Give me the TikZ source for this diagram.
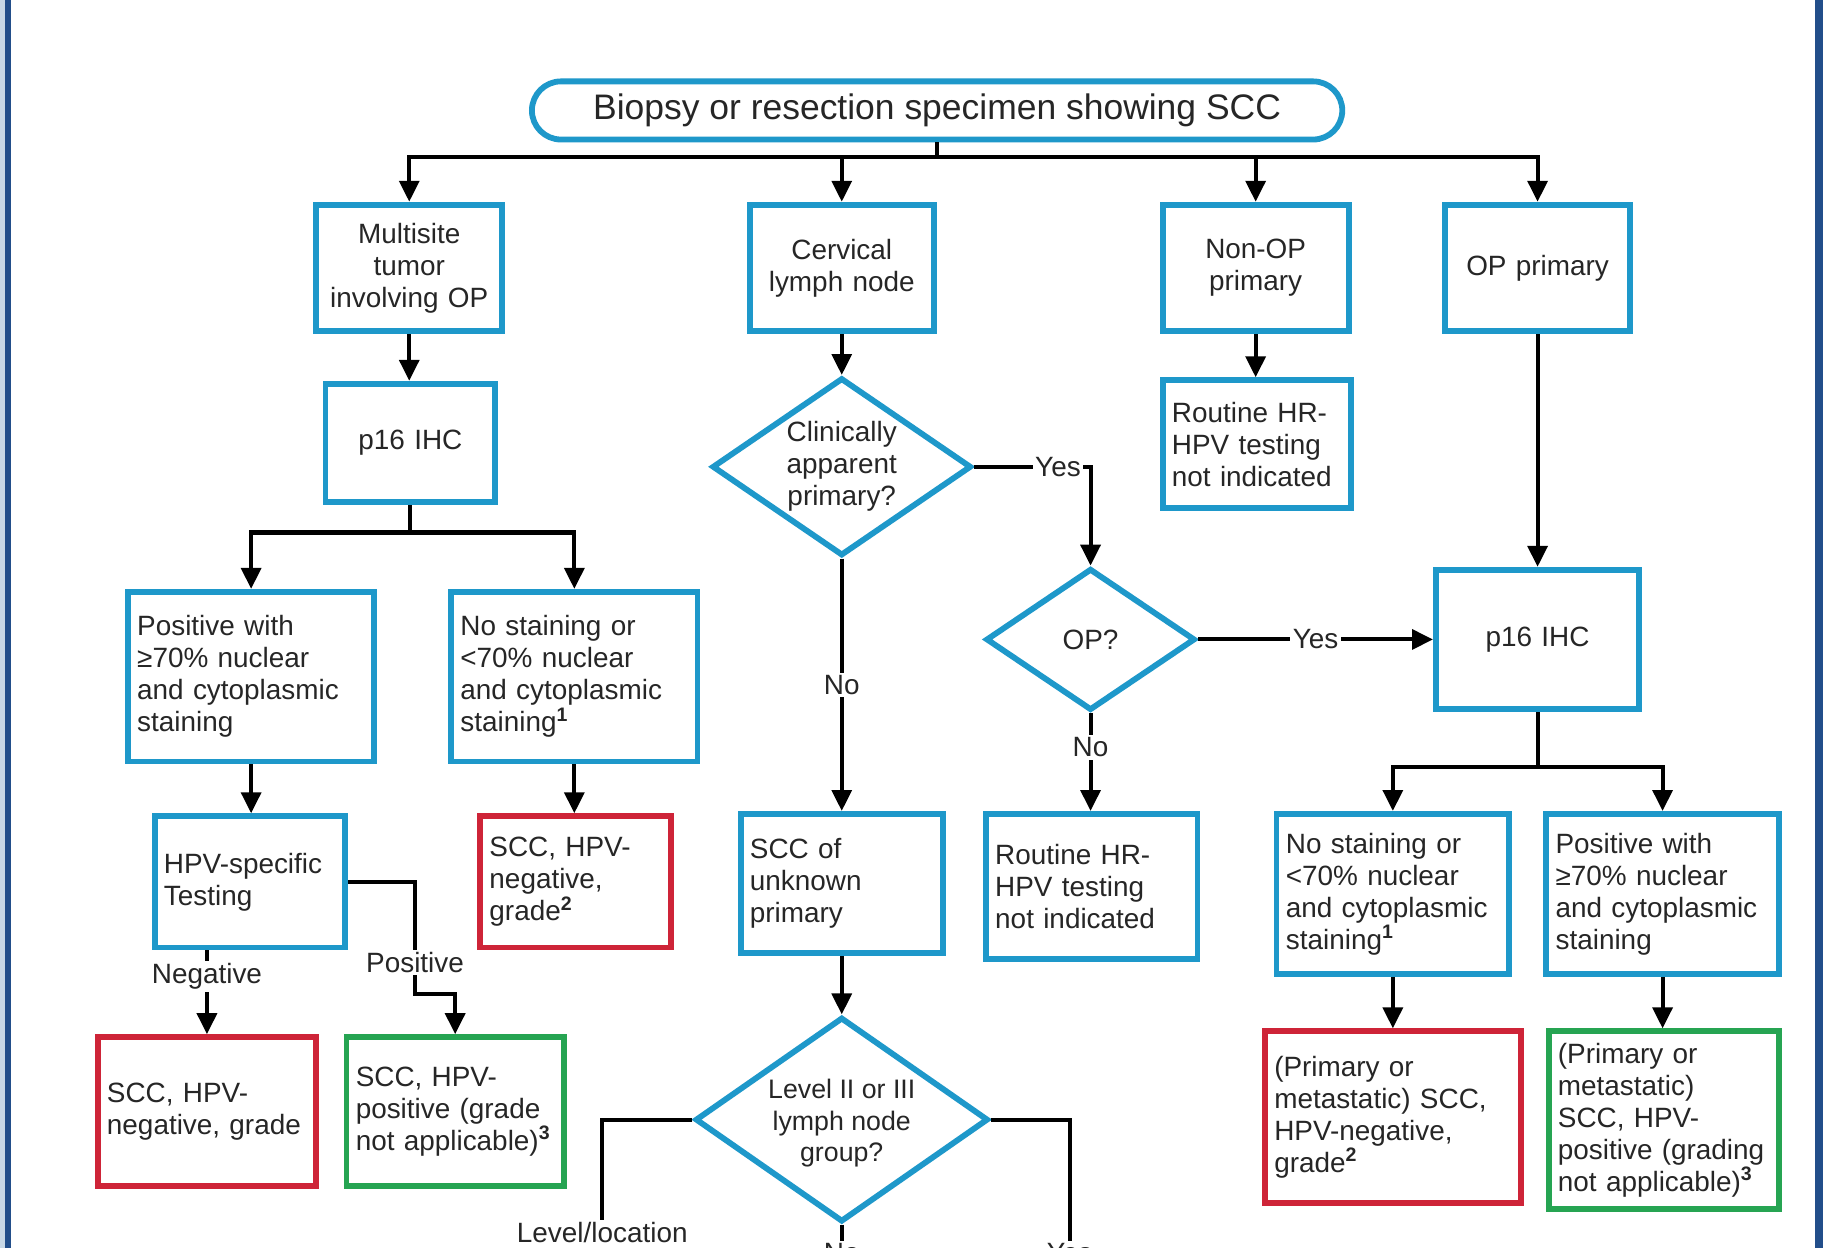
\documentclass[tikz,border=0pt]{standalone}
\usepackage{fontspec}
\setmainfont{Liberation Sans}
\usetikzlibrary{arrows.meta,shapes.geometric}
\definecolor{cblue}{RGB}{30,152,202}
\definecolor{cred}{RGB}{206,36,56}
\definecolor{cgreen}{RGB}{38,164,82}
\definecolor{ctext}{RGB}{38,38,38}
\definecolor{framedark}{RGB}{34,78,138}
\definecolor{framelight}{RGB}{200,216,230}
\newcommand{\bodysize}{\fontsize{24}{27.5}\selectfont}
\newcommand{\topsize}{\fontsize{30.5}{34}\selectfont}
\newcommand{\sups}[1]{\textsuperscript{\bfseries #1}}
\begin{document}
\begin{tikzpicture}[x=1pt,y=-1pt,
  base/.style={line width=5pt, fill=white, text=ctext, font=\bodysize, inner ysep=0pt, inner xsep=8pt},
  bbox/.style={base, draw=cblue},
  rbox/.style={base, draw=cred},
  gbox/.style={base, draw=cgreen},
  sz/.style n args={3}{minimum width=#1pt, minimum height=#2pt, text width=#3pt},
  dia/.style={draw=cblue, line width=5pt, fill=white, shape=diamond, inner sep=0pt},
  lab/.style={text=ctext, font=\bodysize, align=center, inner sep=0pt},
  elab/.style={fill=white, text=ctext, font=\bodysize, inner sep=2pt},
  conn/.style={line width=3.5pt, draw=black},
  arr/.style={conn, -{Triangle[length=18pt,width=17pt]}}
]
\useasboundingbox (0,0) rectangle (1568,1073);
\begin{scope}
\clip (0,0) rectangle (1568,1073);
\fill[white] (0,0) rectangle (1568,1073);
\fill[framelight] (0,0) rectangle (4.5,1073);
\fill[framedark] (4.5,0) rectangle (9.5,1073);
\fill[framedark] (1561,0) rectangle (1568,1073);

% nodes
\node[bbox, rounded corners=25pt, minimum width=697pt, minimum height=50pt, font=\topsize] (top) at (806,95) {Biopsy or resection specimen showing SCC};

\node[bbox, sz={160}{109}{144}, align=center] (multi) at (352,230.5) {Multisite\\tumor\\involving OP};
\node[bbox, sz={158}{109}{142}, align=center] (cerv) at (724,230.5) {Cervical\\lymph node};
\node[bbox, sz={160}{109}{144}, align=center] (nonop) at (1080,230.5) {Non-OP\\primary};
\node[bbox, sz={159}{109}{143}, align=center] (opprim) at (1322.5,230.5) {OP primary};

\node[bbox, sz={146}{102}{130}, align=center] (p16L) at (353,381) {p16 IHC};
\node[dia, minimum width=223pt, minimum height=153pt] (clin) at (724,401.5) {};
\node[lab] (clinT) at (724,401) {Clinically\\apparent\\primary?};
\node[bbox, sz={162}{110}{146}, align=left] (rtT) at (1081,382) {Routine HR-\\HPV testing\\not indicated};

\node[bbox, sz={212}{146}{196}, align=left] (posL) at (216,582) {Positive with\\≥70\% nuclear\\and cytoplasmic\\staining};
\node[bbox, sz={212}{146}{196}, align=left] (noL) at (494,582) {No staining or\\<70\% nuclear\\and cytoplasmic\\staining\sups{1}};

\node[bbox, sz={164}{113}{148}, align=left] (hpv) at (215,758.5) {HPV-specific\\Testing};
\node[rbox, sz={164}{113}{148}, align=left] (negM) at (495,758.5) {SCC, HPV-\\negative,\\grade\sups{2}};
\node[rbox, sz={188}{128}{172}, align=left] (negBL) at (178,956) {SCC, HPV-\\negative, grade};
\node[gbox, sz={187}{128}{171}, align=left] (posBL) at (391.5,956) {SCC, HPV-\\positive (grade\\not applicable)\sups{3}};

\node[bbox, sz={174}{120}{158}, align=left] (unk) at (724,760) {SCC of\\unknown\\primary};
\node[dia, minimum width=180pt, minimum height=122pt] (op) at (938,550) {};
\node[lab] (opT) at (938,550) {OP?};
\node[bbox, sz={182}{125}{166}, align=left] (rtB) at (939,762.5) {Routine HR-\\HPV testing\\not indicated};

\node[bbox, sz={175}{120}{159}, align=center] (p16R) at (1322.5,550) {p16 IHC};
\node[bbox, sz={200}{138}{184}, align=left] (noR) at (1198,769) {No staining or\\<70\% nuclear\\and cytoplasmic\\staining\sups{1}};
\node[bbox, sz={200}{138}{184}, align=left] (posR) at (1430,769) {Positive with\\≥70\% nuclear\\and cytoplasmic\\staining};
\node[rbox, sz={220}{148}{204}, align=left] (negR) at (1198,961) {(Primary or\\metastatic) SCC,\\HPV-negative,\\grade\sups{2}};
\node[gbox, sz={198}{153}{182}, align=left] (posRg) at (1431,963.5) {(Primary or\\metastatic)\\SCC, HPV-\\positive (grading\\not applicable)\sups{3}};

\node[dia, minimum width=252pt, minimum height=176pt] (lvl) at (724,963) {};
\node[lab, font=\fontsize{23}{27}\selectfont] (lvlT) at (724,966) {Level II or III\\lymph node\\group?};

\node[elab] (lvlLoc) at (518,1060) {Level/location};
\node[elab] (lvlNo) at (724,1078) {No};
\node[elab] (lvlYes) at (920,1078) {Yes};

% connectors
\coordinate (bus1) at (806,135);
\draw[conn] (top.south) -- (bus1);
\draw[conn, line cap=rect] (multi.north |- bus1) -- (opprim.north |- bus1);
\foreach \n in {multi,cerv,nonop,opprim} \draw[arr] (\n.north |- bus1) -- (\n.north);

\draw[arr] (multi.south) -- (multi.south |- p16L.north);
\draw[arr] (cerv.south) -- (clin.north);
\draw[arr] (nonop.south) -- (nonop.south |- rtT.north);
\draw[arr] (opprim.south) -- (p16R.north);

\coordinate (bus2) at (353,458);
\draw[conn] (p16L.south) -- (bus2);
\draw[conn, line cap=rect] (posL.north |- bus2) -- (noL.north |- bus2);
\draw[arr] (posL.north |- bus2) -- (posL.north);
\draw[arr] (noL.north |- bus2) -- (noL.north);

\draw[arr] (posL.south) -- (posL.south |- hpv.north);
\draw[arr] (noL.south) -- (noL.south |- negM.north);

\draw[arr] (hpv.south -| negBL.north) -- node[elab, pos=0.31] (negLab) {Negative} (negBL.north);

\coordinate (pb) at (357,855);
\draw[arr] (hpv.east) -| (pb) -| (posBL.north);
\node[elab] (posLab) at (357,828) {Positive};

\draw[arr] (clin.south) -- node[elab] (noLab1) {No} (unk.north);
\draw[arr] (clin.east) -| node[elab, pos=0.36] (yesLab1) {Yes} (op.north);
\draw[arr] (op.east) -- node[elab] (yesLab2) {Yes} (p16R.west);
\draw[arr] (op.south) -- node[elab, pos=0.35] (noLab2) {No} (op.south |- rtB.north);

\coordinate (bus3) at (1322.5,660);
\draw[conn] (p16R.south) -- (bus3);
\draw[conn, line cap=rect] (noR.north |- bus3) -- (posR.north |- bus3);
\draw[arr] (noR.north |- bus3) -- (noR.north);
\draw[arr] (posR.north |- bus3) -- (posR.north);

\draw[arr] (noR.south) -- (negR.north);
\draw[arr] (posR.south) -- (posR.south |- posRg.north);

\draw[arr] (unk.south) -- (lvl.north);

\draw[conn] (lvl.west) -| (lvlLoc.north);
\draw[conn] (lvl.east) -| (lvlYes.north);
\draw[conn] (lvl.south) -- (lvlNo.north);
\end{scope}
\end{tikzpicture}
\end{document}
